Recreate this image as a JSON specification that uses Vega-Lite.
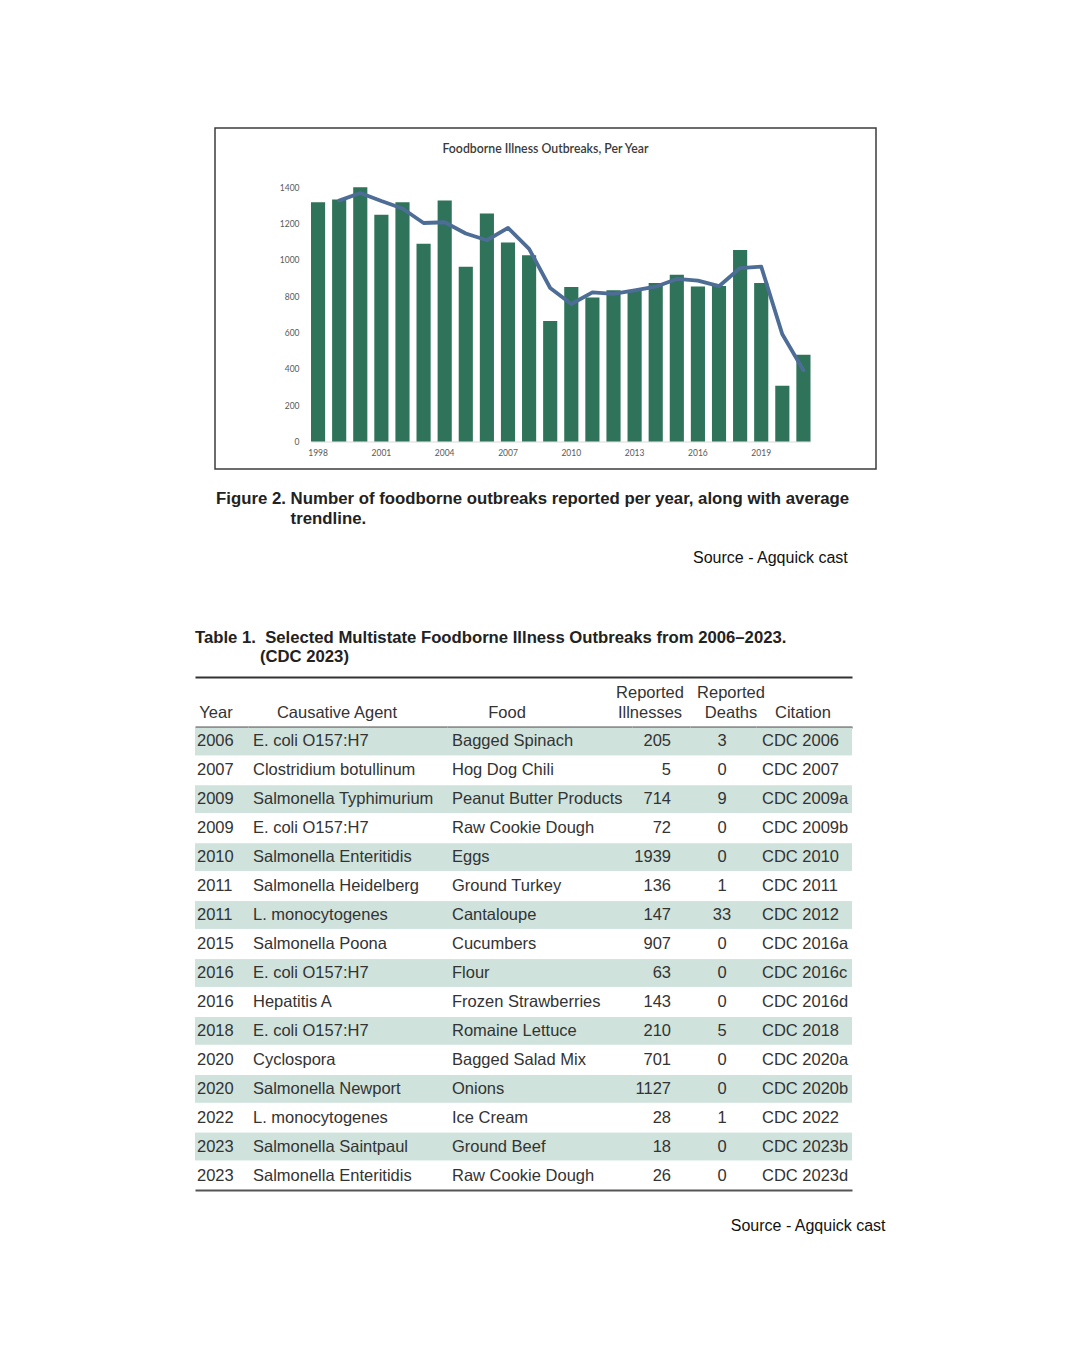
{
  "$schema": "https://vega.github.io/schema/vega-lite/v6.json",
  "background": "white",
  "padding": {"left": 195, "top": 127, "right": 10, "bottom": 10},
  "bounds": "flush",
  "spacing": 258,
  "config": {"view": {"stroke": null}, "axis": {"grid": false}, "font": "Liberation Sans"},
  "datasets": {
    "outbreaks": [
      {"year": 1998, "outbreaks": 1317, "trend": null},
      {"year": 1999, "outbreaks": 1332, "trend": 1326},
      {"year": 2000, "outbreaks": 1400, "trend": 1368},
      {"year": 2001, "outbreaks": 1248, "trend": 1324},
      {"year": 2002, "outbreaks": 1317, "trend": 1283},
      {"year": 2003, "outbreaks": 1088, "trend": 1203},
      {"year": 2004, "outbreaks": 1327, "trend": 1207},
      {"year": 2005, "outbreaks": 962, "trend": 1145},
      {"year": 2006, "outbreaks": 1255, "trend": 1108},
      {"year": 2007, "outbreaks": 1096, "trend": 1176},
      {"year": 2008, "outbreaks": 1026, "trend": 1061},
      {"year": 2009, "outbreaks": 664, "trend": 845},
      {"year": 2010, "outbreaks": 850, "trend": 757},
      {"year": 2011, "outbreaks": 793, "trend": 821},
      {"year": 2012, "outbreaks": 833, "trend": 813},
      {"year": 2013, "outbreaks": 831, "trend": 832},
      {"year": 2014, "outbreaks": 872, "trend": 852},
      {"year": 2015, "outbreaks": 918, "trend": 895},
      {"year": 2016, "outbreaks": 853, "trend": 886},
      {"year": 2017, "outbreaks": 856, "trend": 855},
      {"year": 2018, "outbreaks": 1054, "trend": 955},
      {"year": 2019, "outbreaks": 872, "trend": 963},
      {"year": 2020, "outbreaks": 307, "trend": 590},
      {"year": 2021, "outbreaks": 477, "trend": 392}
    ],
    "table": [
      {"row": 1, "year": "2006", "agent": "E. coli O157:H7", "food": "Bagged Spinach", "ill": "205", "deaths": "3", "cite": "CDC 2006"},
      {"row": 2, "year": "2007", "agent": "Clostridium botullinum", "food": "Hog Dog Chili", "ill": "5", "deaths": "0", "cite": "CDC 2007"},
      {"row": 3, "year": "2009", "agent": "Salmonella Typhimurium", "food": "Peanut Butter Products", "ill": "714", "deaths": "9", "cite": "CDC 2009a"},
      {"row": 4, "year": "2009", "agent": "E. coli O157:H7", "food": "Raw Cookie Dough", "ill": "72", "deaths": "0", "cite": "CDC 2009b"},
      {"row": 5, "year": "2010", "agent": "Salmonella Enteritidis", "food": "Eggs", "ill": "1939", "deaths": "0", "cite": "CDC 2010"},
      {"row": 6, "year": "2011", "agent": "Salmonella Heidelberg", "food": "Ground Turkey", "ill": "136", "deaths": "1", "cite": "CDC 2011"},
      {"row": 7, "year": "2011", "agent": "L. monocytogenes", "food": "Cantaloupe", "ill": "147", "deaths": "33", "cite": "CDC 2012"},
      {"row": 8, "year": "2015", "agent": "Salmonella Poona", "food": "Cucumbers", "ill": "907", "deaths": "0", "cite": "CDC 2016a"},
      {"row": 9, "year": "2016", "agent": "E. coli O157:H7", "food": "Flour", "ill": "63", "deaths": "0", "cite": "CDC 2016c"},
      {"row": 10, "year": "2016", "agent": "Hepatitis A", "food": "Frozen Strawberries", "ill": "143", "deaths": "0", "cite": "CDC 2016d"},
      {"row": 11, "year": "2018", "agent": "E. coli O157:H7", "food": "Romaine Lettuce", "ill": "210", "deaths": "5", "cite": "CDC 2018"},
      {"row": 12, "year": "2020", "agent": "Cyclospora", "food": "Bagged Salad Mix", "ill": "701", "deaths": "0", "cite": "CDC 2020a"},
      {"row": 13, "year": "2020", "agent": "Salmonella Newport", "food": "Onions", "ill": "1127", "deaths": "0", "cite": "CDC 2020b"},
      {"row": 14, "year": "2022", "agent": "L. monocytogenes", "food": "Ice Cream", "ill": "28", "deaths": "1", "cite": "CDC 2022"},
      {"row": 15, "year": "2023", "agent": "Salmonella Saintpaul", "food": "Ground Beef", "ill": "18", "deaths": "0", "cite": "CDC 2023b"},
      {"row": 16, "year": "2023", "agent": "Salmonella Enteritidis", "food": "Raw Cookie Dough", "ill": "26", "deaths": "0", "cite": "CDC 2023d"}
    ]
  },
  "vconcat": [
    {
      "width": 661,
      "height": 341,
      "view": {"stroke": "#3c3c3c", "strokeWidth": 1.5},
      "title": {
        "text": "Foodborne Illness Outbreaks, Per Year",
        "anchor": "middle",
        "frame": "group",
        "baseline": "alphabetic",
        "offset": -37,
        "font": "Lato",
        "fontSize": 12.3,
        "fontWeight": 600,
        "color": "#3a3a3a"
      },
      "data": {"name": "outbreaks"},
      "layer": [
        {
          "mark": {"type": "bar", "color": "#2e735a"},
          "encoding": {
            "x": {
              "field": "year",
              "type": "ordinal",
              "scale": {"range": [96, 595.5], "paddingInner": 0.33, "paddingOuter": 0},
              "axis": {
                "orient": "bottom",
                "offset": -27.5,
                "labelExpr": "(datum.value - 1998) % 3 == 0 ? datum.label : ''",
                "labelOverlap": false,
                "labelBound": false,
                "labelFlush": false,
                "labelAngle": 0,
                "labelFont": "Lato",
                "labelFontSize": 8.5,
                "labelColor": "#595959",
                "labelPadding": 7,
                "ticks": false,
                "domainColor": "#d9d9d9",
                "domainWidth": 1,
                "title": ["Figure 2. Number of foodborne outbreaks reported per year, along with average", "\u200b\u00a0\u00a0\u00a0\u00a0\u00a0\u00a0\u00a0\u00a0\u00a0\u00a0\u00a0\u00a0\u00a0\u00a0\u00a0\u00a0trendline."],
                "titleFont": "Liberation Sans",
                "titleFontSize": 16.8,
                "titleFontWeight": "bold",
                "titleColor": "#222222",
                "titleAlign": "left",
                "titleAnchor": "start",
                "titleBaseline": "alphabetic",
                "titleAngle": 0,
                "titleX": 0.5,
                "titleY": 62,
                "titleLineHeight": 20
              }
            },
            "y": {
              "field": "outbreaks",
              "type": "quantitative",
              "scale": {"domain": [0, 1400], "range": [313.5, 59.2], "nice": false, "zero": true},
              "axis": {
                "orient": "left",
                "offset": -88,
                "values": [0, 200, 400, 600, 800, 1000, 1200, 1400],
                "format": "d",
                "labelFont": "Lato",
                "labelFontSize": 8.5,
                "labelColor": "#595959",
                "labelPadding": 4,
                "ticks": false,
                "domain": false,
                "grid": false,
                "title": "Source - Agquick cast",
                "titleAngle": 0,
                "titleAlign": "left",
                "titleBaseline": "alphabetic",
                "titleX": 389.5,
                "titleY": 434,
                "titleFont": "Liberation Sans",
                "titleFontSize": 16,
                "titleFontWeight": "normal",
                "titleColor": "#111111"
              }
            }
          }
        },
        {
          "transform": [{"filter": "isValid(datum.trend)"}],
          "mark": {"type": "line", "color": "#4d6d96", "strokeWidth": 3.8, "strokeCap": "round", "strokeJoin": "round"},
          "encoding": {
            "x": {"field": "year", "type": "ordinal"},
            "y": {"field": "trend", "type": "quantitative"}
          }
        }
      ]
    },
    {
      "width": 637,
      "height": 463,
      "data": {"name": "table"},
      "title": {
        "text": ["Table 1.\u00a0 Selected Multistate Foodborne Illness Outbreaks from 2006\u20132023.", "\u200b\u00a0\u00a0\u00a0\u00a0\u00a0\u00a0\u00a0\u00a0\u00a0\u00a0\u00a0\u00a0\u00a0\u00a0(CDC 2023)"],
        "anchor": "start",
        "frame": "group",
        "dx": -20,
        "offset": -2,
        "baseline": "alphabetic",
        "font": "Liberation Sans",
        "fontSize": 16.7,
        "fontWeight": "bold",
        "color": "#222222",
        "lineHeight": 19.5
      },
      "resolve": {"scale": {"x": "independent"}, "axis": {"x": "independent"}},
      "encoding": {
        "y": {"field": "row", "type": "ordinal", "axis": null, "scale": {"paddingInner": 0.05, "paddingOuter": 0.025}}
      },
      "layer": [
        {
          "transform": [{"filter": "datum.row % 2 == 1"}],
          "mark": {"type": "rect", "color": "#cfe2dc"},
          "encoding": {
            "x": {
              "datum": "stripe-top",
              "type": "nominal",
              "scale": {"type": "band", "range": [-20, 637], "paddingInner": 0, "paddingOuter": 0},
              "axis": {"orient": "top", "offset": 50, "labels": false, "ticks": false, "title": null, "domainColor": "#333333", "domainWidth": 2}
            }
          }
        },
        {
          "transform": [{"filter": "datum.row % 2 == 1"}],
          "mark": {"type": "rect", "color": "#cfe2dc"},
          "encoding": {
            "x": {
              "datum": "stripe-bottom",
              "type": "nominal",
              "scale": {"type": "band", "range": [-20, 637], "paddingInner": 0, "paddingOuter": 0},
              "axis": {
                "orient": "bottom", "labels": false, "ticks": false, "domainColor": "#555555", "domainWidth": 2,
                "title": "Source - Agquick cast", "titleX": 670, "titleY": 40, "titleAlign": "right", "titleAngle": 0,
                "titleBaseline": "alphabetic", "titleFont": "Liberation Sans", "titleFontSize": 16, "titleFontWeight": "normal", "titleColor": "#111111"
              }
            }
          }
        },
        {
          "mark": {"type": "text", "align": "left", "baseline": "middle", "dx": -24.5, "font": "Liberation Sans", "fontSize": 16.5, "color": "#333333"},
          "encoding": {
            "x": {
              "datum": "Year", "type": "nominal",
              "scale": {"type": "band", "range": [-20, 33], "paddingInner": 0, "paddingOuter": 0},
              "axis": {"orient": "top", "labelAngle": 0, "labelFont": "Liberation Sans", "labelFontSize": 16.5, "labelColor": "#333333", "labelPadding": 6.5, "ticks": false, "tickSize": 0, "domainColor": "#555555", "domainWidth": 2, "title": null, "labelOffset": -5.5, "labelBaseline": "bottom", "labelAlign": "center", "labelLineHeight": 20.5}
            },
            "text": {"field": "year", "type": "nominal"}
          }
        },
        {
          "mark": {"type": "text", "align": "left", "baseline": "middle", "dx": -94.5, "font": "Liberation Sans", "fontSize": 16.5, "color": "#333333"},
          "encoding": {
            "x": {
              "datum": "Causative Agent", "type": "nominal",
              "scale": {"type": "band", "range": [33, 232], "paddingInner": 0, "paddingOuter": 0},
              "axis": {"orient": "top", "labelAngle": 0, "labelFont": "Liberation Sans", "labelFontSize": 16.5, "labelColor": "#333333", "labelPadding": 6.5, "ticks": false, "tickSize": 0, "domainColor": "#555555", "domainWidth": 2, "title": null, "labelOffset": -10.5, "labelBaseline": "bottom", "labelAlign": "center", "labelLineHeight": 20.5}
            },
            "text": {"field": "agent", "type": "nominal"}
          }
        },
        {
          "mark": {"type": "text", "align": "left", "baseline": "middle", "dx": -87.5, "font": "Liberation Sans", "fontSize": 16.5, "color": "#333333"},
          "encoding": {
            "x": {
              "datum": "Food", "type": "nominal",
              "scale": {"type": "band", "range": [232, 417], "paddingInner": 0, "paddingOuter": 0},
              "axis": {"orient": "top", "labelAngle": 0, "labelFont": "Liberation Sans", "labelFontSize": 16.5, "labelColor": "#333333", "labelPadding": 6.5, "ticks": false, "tickSize": 0, "domainColor": "#555555", "domainWidth": 2, "title": null, "labelOffset": -32.5, "labelBaseline": "bottom", "labelAlign": "center", "labelLineHeight": 20.5}
            },
            "text": {"field": "food", "type": "nominal"}
          }
        },
        {
          "mark": {"type": "text", "align": "right", "baseline": "middle", "dx": 10, "font": "Liberation Sans", "fontSize": 16.5, "color": "#333333"},
          "encoding": {
            "x": {
              "datum": "Reported|Illnesses", "type": "nominal",
              "scale": {"type": "band", "range": [417, 475], "paddingInner": 0, "paddingOuter": 0},
              "axis": {"orient": "top", "labelExpr": "split(datum.label, '|')", "labelAngle": 0, "labelFont": "Liberation Sans", "labelFontSize": 16.5, "labelColor": "#333333", "labelPadding": 27, "ticks": false, "tickSize": 0, "domainColor": "#555555", "domainWidth": 2, "title": null, "labelOffset": -11, "labelBaseline": "bottom", "labelAlign": "center", "labelLineHeight": 20.5}
            },
            "text": {"field": "ill", "type": "nominal"}
          }
        },
        {
          "mark": {"type": "text", "align": "center", "baseline": "middle", "dx": -1, "font": "Liberation Sans", "fontSize": 16.5, "color": "#333333"},
          "encoding": {
            "x": {
              "datum": "Reported|Deaths", "type": "nominal",
              "scale": {"type": "band", "range": [475, 541], "paddingInner": 0, "paddingOuter": 0},
              "axis": {"orient": "top", "labelExpr": "split(datum.label, '|')", "labelAngle": 0, "labelFont": "Liberation Sans", "labelFontSize": 16.5, "labelColor": "#333333", "labelPadding": 27, "ticks": false, "tickSize": 0, "domainColor": "#555555", "domainWidth": 2, "title": null, "labelOffset": 8, "labelBaseline": "bottom", "labelAlign": "center", "labelLineHeight": 20.5}
            },
            "text": {"field": "deaths", "type": "nominal"}
          }
        },
        {
          "mark": {"type": "text", "align": "left", "baseline": "middle", "dx": -42, "font": "Liberation Sans", "fontSize": 16.5, "color": "#333333"},
          "encoding": {
            "x": {
              "datum": "Citation", "type": "nominal",
              "scale": {"type": "band", "range": [541, 637], "paddingInner": 0, "paddingOuter": 0},
              "axis": {"orient": "top", "labelAngle": 0, "labelFont": "Liberation Sans", "labelFontSize": 16.5, "labelColor": "#333333", "labelPadding": 6.5, "ticks": false, "tickSize": 0, "domainColor": "#555555", "domainWidth": 2, "title": null, "labelOffset": -1, "labelBaseline": "bottom", "labelAlign": "center", "labelLineHeight": 20.5}
            },
            "text": {"field": "cite", "type": "nominal"}
          }
        }
      ]
    }
  ]
}
